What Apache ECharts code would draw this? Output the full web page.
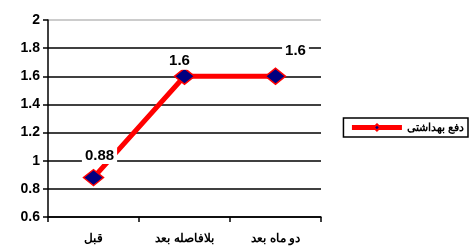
<!DOCTYPE html>
<html><head><meta charset="utf-8">
<script src="https://cdn.jsdelivr.net/npm/echarts@6/dist/echarts.min.js"></script>
<style>html,body{margin:0;padding:0;background:#fff}#c{width:473px;height:251px}</style>
</head><body><div id="c"></div>
<script>
var categories = ['قبل', 'بلافاصله بعد', 'دو ماه بعد'];
var seriesName = 'دفع بهداشتی';
var values = [0.88, 1.6, 1.6];
var yTicks = [0.6, 0.8, 1, 1.2, 1.4, 1.6, 1.8, 2];
var labelOffsets = [[6, -22], [-5, -15], [20, -25]];

var chart = echarts.init(document.getElementById('c'));
chart.setOption({
  animation: false,
  grid: {left: 48, right: 152, top: 20, bottom: 34},
  legend: {
    data: [seriesName], right: 5, top: 118, orient: 'vertical',
    borderColor: '#000', borderWidth: 1.5, borderRadius: 0, padding: [4, 4, 4, 6],
    itemWidth: 50, itemHeight: 8, itemGap: 4,
    lineStyle: {width: 5},
    textStyle: {fontFamily: 'Arial, Liberation Sans', fontWeight: 700, fontSize: 11, color: '#000'}
  },
  xAxis: {
    type: 'category', data: categories, boundaryGap: true,
    axisLine: {lineStyle: {color: '#000', width: 1.5}},
    axisTick: {show: true, length: 5, lineStyle: {color: '#000', width: 1.5}},
    axisLabel: {margin: 16, fontFamily: 'Arial, Liberation Sans', fontWeight: 700, fontSize: 12, color: '#000'}
  },
  yAxis: {
    type: 'value', min: 0.6, max: 2, interval: 0.2,
    axisLine: {show: true, lineStyle: {color: '#000', width: 1.5}},
    axisTick: {show: true, length: 5, lineStyle: {color: '#000', width: 1.5}},
    axisLabel: {margin: 8, fontFamily: 'Arial, Liberation Sans', fontWeight: 700, fontSize: 14, color: '#000',
      formatter: function (v) { var r = Math.round(v * 10) / 10; return yTicks.indexOf(r) >= 0 ? String(r) : ''; }},
    splitLine: {show: true, lineStyle: {color: ['#000', '#000', '#000', '#000', '#000', '#000', '#000', '#bbb'], width: 1.5}}
  },
  series: [{
    name: seriesName, type: 'line',
    data: values.map(function (v, i) {
      return {value: v, label: {offset: labelOffsets[i]}};
    }),
    lineStyle: {color: '#ff0000', width: 5},
    itemStyle: {color: '#000080', borderColor: '#ff0000', borderWidth: 1.5},
    symbol: 'diamond', symbolSize: [20, 16],
    label: {
      show: true, position: 'inside',
      fontFamily: 'Arial, Liberation Sans', fontWeight: 700, fontSize: 15, color: '#000',
      backgroundColor: '#fff', padding: [1, 3]
    }
  }]
});
</script></body></html>
